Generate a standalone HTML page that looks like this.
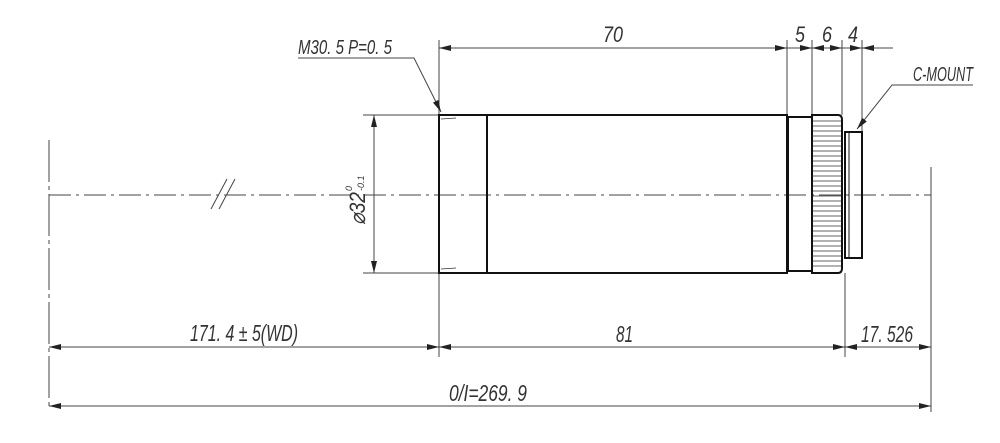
<!DOCTYPE html>
<html><head><meta charset="utf-8"><style>
html,body{margin:0;padding:0;background:#fff}
svg{display:block}
text{font-family:"Liberation Sans",sans-serif;font-style:italic;fill:#333}
</style></head><body>
<svg width="1000" height="443" viewBox="0 0 1000 443" xmlns="http://www.w3.org/2000/svg">
<defs>
<marker id="a" viewBox="0 0 12 6" refX="12" refY="3" markerWidth="12" markerHeight="6" orient="auto-start-reverse" markerUnits="userSpaceOnUse"><path d="M0,0L12,3L0,6z" fill="#222"/></marker>
</defs>
<g stroke="#444" stroke-width="1" fill="none">
<line x1="49" y1="195" x2="931" y2="195" stroke-dasharray="22,5,3,5"/>
<line x1="49" y1="140" x2="49" y2="410" stroke-dasharray="42,4,4,4"/>
<line x1="931" y1="167" x2="931" y2="412"/>
<line x1="211" y1="209" x2="227" y2="179"/>
<line x1="219" y1="209" x2="235" y2="179"/>
<line x1="439" y1="40" x2="439" y2="115"/>
<line x1="439" y1="273" x2="439" y2="357"/>
<line x1="787" y1="40" x2="787" y2="115"/>
<line x1="812" y1="40" x2="812" y2="115"/>
<line x1="842" y1="40" x2="842" y2="115"/>
<line x1="862" y1="40" x2="862" y2="132"/>
<line x1="845" y1="273" x2="845" y2="357"/>
<line x1="363" y1="115" x2="439" y2="115"/>
<line x1="363" y1="273" x2="439" y2="273"/>
<line x1="439" y1="48" x2="787" y2="48" marker-start="url(#a)" marker-end="url(#a)"/>
<line x1="787" y1="48" x2="812" y2="48" marker-end="url(#a)"/>
<line x1="812" y1="48" x2="842" y2="48" marker-start="url(#a)" marker-end="url(#a)"/>
<line x1="842" y1="48" x2="862" y2="48" marker-end="url(#a)"/>
<line x1="893" y1="48" x2="862" y2="48" marker-end="url(#a)"/>
<line x1="374" y1="115" x2="374" y2="273" marker-start="url(#a)" marker-end="url(#a)"/>
<line x1="49" y1="347" x2="439" y2="347" marker-start="url(#a)" marker-end="url(#a)"/>
<line x1="439" y1="347" x2="845" y2="347" marker-start="url(#a)" marker-end="url(#a)"/>
<line x1="845" y1="347" x2="931" y2="347" marker-start="url(#a)" marker-end="url(#a)"/>
<line x1="49" y1="406" x2="931" y2="406" marker-start="url(#a)" marker-end="url(#a)"/>
<polyline points="298,58 414,58 441,112" marker-end="url(#a)"/>
<polyline points="973,85 892,85 857,129" marker-end="url(#a)"/>
</g>
<g stroke="#111" stroke-width="2" fill="none">
<rect x="439" y="115" width="348" height="158"/>
<line x1="487" y1="115" x2="487" y2="273"/>
<rect x="788" y="117" width="24" height="154"/>
<path d="M812,115 H838 Q842,115 842,120 V268 Q842,273 838,273 H812 Z"/>
<rect x="845" y="132" width="17" height="126"/>
<line x1="849" y1="132" x2="849" y2="258" stroke-width="1"/>
</g>
<g stroke="#333" stroke-width="0.8">
<line x1="813" y1="121" x2="841" y2="121"/><line x1="813" y1="126" x2="841" y2="126"/><line x1="813" y1="131" x2="841" y2="131"/><line x1="813" y1="136" x2="841" y2="136"/><line x1="813" y1="141" x2="841" y2="141"/><line x1="813" y1="146" x2="841" y2="146"/><line x1="813" y1="151" x2="841" y2="151"/><line x1="813" y1="156" x2="841" y2="156"/><line x1="813" y1="161" x2="841" y2="161"/><line x1="813" y1="166" x2="841" y2="166"/><line x1="813" y1="171" x2="841" y2="171"/><line x1="813" y1="176" x2="841" y2="176"/><line x1="813" y1="181" x2="841" y2="181"/><line x1="813" y1="186" x2="841" y2="186"/><line x1="813" y1="191" x2="841" y2="191"/><line x1="813" y1="196" x2="841" y2="196"/><line x1="813" y1="201" x2="841" y2="201"/><line x1="813" y1="206" x2="841" y2="206"/><line x1="813" y1="211" x2="841" y2="211"/><line x1="813" y1="216" x2="841" y2="216"/><line x1="813" y1="221" x2="841" y2="221"/><line x1="813" y1="226" x2="841" y2="226"/><line x1="813" y1="231" x2="841" y2="231"/><line x1="813" y1="236" x2="841" y2="236"/><line x1="813" y1="241" x2="841" y2="241"/><line x1="813" y1="246" x2="841" y2="246"/><line x1="813" y1="251" x2="841" y2="251"/><line x1="813" y1="256" x2="841" y2="256"/><line x1="813" y1="261" x2="841" y2="261"/><line x1="813" y1="266" x2="841" y2="266"/>
<line x1="441" y1="119" x2="456" y2="118"/><line x1="441" y1="269" x2="456" y2="268"/>
</g>
<text x="298" y="54" font-size="20" textLength="94" lengthAdjust="spacingAndGlyphs">M30. 5 P=0. 5</text>
<text x="603" y="42" font-size="22" textLength="20" lengthAdjust="spacingAndGlyphs">70</text>
<text x="795" y="42" font-size="22" textLength="10" lengthAdjust="spacingAndGlyphs">5</text>
<text x="822" y="42" font-size="22" textLength="10" lengthAdjust="spacingAndGlyphs">6</text>
<text x="848" y="42" font-size="22" textLength="10" lengthAdjust="spacingAndGlyphs">4</text>
<text x="913" y="81" font-size="20" textLength="60" lengthAdjust="spacingAndGlyphs">C-MOUNT</text>
<g transform="translate(365,195) rotate(-90)">
<text x="-30" y="0" font-size="22" textLength="33" lengthAdjust="spacingAndGlyphs">⌀32</text>
<text x="4" y="-13" font-size="9">0</text>
<text x="4" y="-1" font-size="9">-0.1</text>
</g>
<text x="190" y="341" font-size="23" textLength="108" lengthAdjust="spacingAndGlyphs">171. 4 ± 5(WD)</text>
<text x="616" y="342" font-size="23" textLength="17" lengthAdjust="spacingAndGlyphs">81</text>
<text x="861" y="342" font-size="23" textLength="52" lengthAdjust="spacingAndGlyphs">17. 526</text>
<text x="449" y="401" font-size="23" textLength="78" lengthAdjust="spacingAndGlyphs">0/I=269. 9</text>
</svg>
</body></html>
